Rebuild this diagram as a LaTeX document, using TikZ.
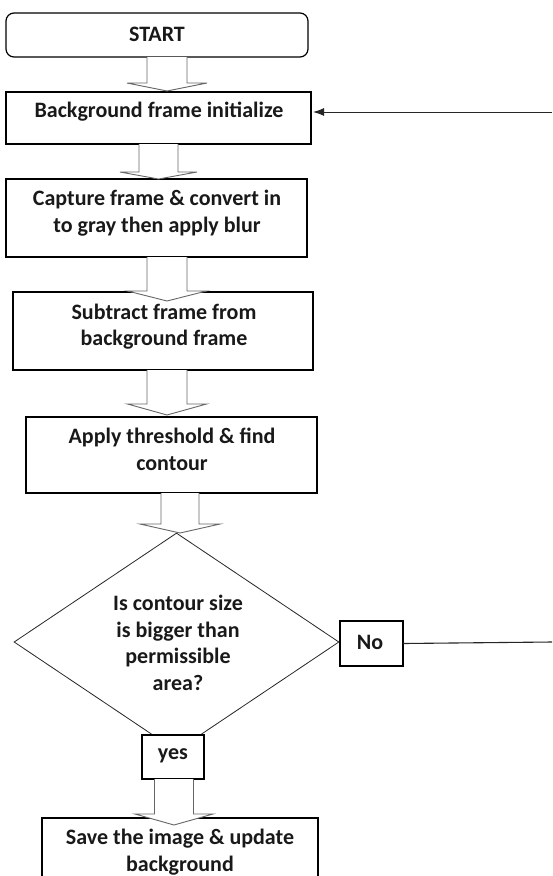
\documentclass[tikz,border=0pt]{standalone}
\usepackage{fontspec}
\setmainfont{Carlito}
\usetikzlibrary{shapes.geometric,arrows.meta,calc}

% hollow block arrow: #1 source node, #2 tip coordinate,
% #3 half shaft width, #4 half head width, #5 head length (all pt)
\newcommand{\hollowarrow}[5]{%
  \draw[hollow] let \p1=(#2), \p2=(#1.south) in
    ({\x1-#3pt},{\y2}) -- ({\x1-#3pt},{\y1+#5pt}) -- ({\x1-#4pt},{\y1+#5pt})
    -- (\x1,\y1) -- ({\x1+#4pt},{\y1+#5pt}) -- ({\x1+#3pt},{\y1+#5pt})
    -- ({\x1+#3pt},{\y2});}

\begin{document}
\begin{tikzpicture}[x=1pt,y=-1pt,
  box/.style={draw=black,line width=1.2pt,fill=white,inner sep=0pt,outer sep=0pt},
  lbl/.style={font=\bfseries\fontsize{22}{26.5}\selectfont,align=center,inner sep=0pt,text=black!90},
  hollow/.style={draw=black!60,line width=0.9pt,fill=white,line join=miter},
  decision/.style={diamond,draw=black!85,line width=0.8pt,fill=white,inner sep=0pt,
    minimum width=325pt,minimum height=218pt,aspect=1.49},
]
\clip (0,0) rectangle (552,876);
\fill[white] (0,0) rectangle (552,876);

% process boxes
\node[box,rounded corners=8pt,minimum width=302pt,minimum height=44pt,anchor=north west] (start) at (6,13) {};
\node[box,minimum width=305pt,minimum height=52pt,anchor=north west] (b2) at (6,92) {};
\node[box,minimum width=301pt,minimum height=78pt,anchor=north west] (b3) at (6,179) {};
\node[box,minimum width=300pt,minimum height=78pt,anchor=north west] (b4) at (13,292) {};
\node[box,minimum width=291pt,minimum height=76pt,anchor=north west] (b5) at (26,417) {};
\node[box,minimum width=276pt,minimum height=80pt,anchor=north west] (b6) at (42,818) {};

% decision
\node[decision] (dec) at (176.5,642) {};
\node[box,minimum width=62pt,minimum height=44pt,anchor=north west] (yes) at (142,735) {};
\node[box,minimum width=63pt,minimum height=45pt,anchor=north west] (no) at (340,621) {};

% labels
\node[lbl] (tstart) at (157,34) {START};
\node[lbl] (t2) at (159,112) {Background frame initialize};
\node[lbl] (t3) at (157,213) {Capture frame \& convert in\\to gray then apply blur};
\node[lbl] (t4) at (164,326.5) {Subtract frame from\\background frame};
\node[lbl] (t5) at (172,449.5) {Apply threshold \& find\\contour};
\node[lbl] (t6) at (180,852) {Save the image \& update\\background};
\node[lbl] (tdec) at (178,643) {Is contour size\\is bigger than\\permissible\\area?};
\node[lbl] (tyes) at (173,756) {yes};
\node[lbl] (tno) at (370,642) {No};

% tips of the block arrows
\coordinate (tip1) at (167,91);
\coordinate (tip2) at (158.5,179);
\coordinate (tip3) at (167,301);
\coordinate (tip4) at (167,415);
\coordinate (tip5) at (180,533);
\coordinate (tip6) at (174,825);

\hollowarrow{start}{tip1}{20}{40}{8}
\hollowarrow{b2}{tip2}{19.5}{38.5}{7}
\hollowarrow{b3}{tip3}{20}{39.5}{10}
\hollowarrow{b4}{tip4}{20}{39.5}{11}
\hollowarrow{b5}{tip5}{19}{40}{9}
\hollowarrow{yes}{tip6}{19.5}{39}{11}

% feedback line from "No" back to the initial frame
\coordinate (fbtop) at (552,112);
\coordinate (fbno) at (552,642);
\draw[line width=1.1pt,black!85] (no.east) -- (fbno);
\draw[line width=1pt,black!85,-{Latex[length=11pt,width=8pt]},shorten >=2pt] (fbtop) -- (b2.east |- fbtop);
\end{tikzpicture}
\end{document}
